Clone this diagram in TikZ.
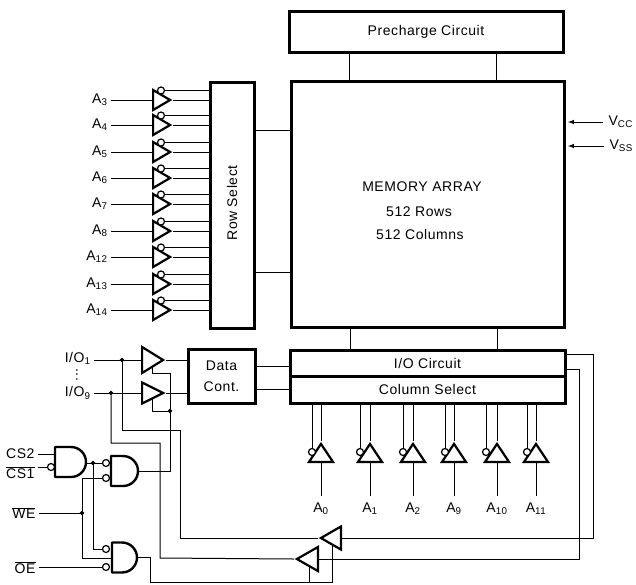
\documentclass[tikz,border=0pt]{standalone}
\usepackage{fontspec}
\setmainfont[LetterSpace=4]{Liberation Sans}
\usetikzlibrary{shapes.geometric}
\begin{document}
\begin{tikzpicture}[x=1pt,y=-1pt,line width=1pt]
\tikzset{every node/.style={font=\fontsize{14}{17}\selectfont},
bloc/.style={draw, line width=3pt, inner sep=0pt},
tampon/.style={draw, line width=2.2pt, isosceles triangle, isosceles triangle stretches, inner sep=0pt, anchor=lower side},
bulle/.style={draw, circle, fill=white, line width=1.2pt, inner sep=0pt, minimum size=7pt},
jonction/.style={draw, circle, fill=black, inner sep=0pt, minimum size=3.5pt},
etiquette/.style={anchor=east, inner sep=3pt},
porte/.style={line width=2.4pt, line join=round}}
\useasboundingbox (0,0) rectangle (636,584);
\node[bloc, minimum width=274pt, minimum height=41pt] (Precharge) at (426,31.5) {Precharge Circuit};
\node[bloc, minimum width=273pt, minimum height=246pt] (Memory) at (427.5,204) {};
\node (MemA) at (422,187) {MEMORY ARRAY};
\node (MemB) at (419,212) {512 Rows};
\node (MemC) at (420,234) {512 Columns};
\node[bloc, minimum width=44pt, minimum height=246pt] (RowSelect) at (232,205) {};
\node[rotate=90] (RowText) at (232,203) {Row Select};
\node[bloc, minimum width=275pt, minimum height=26pt] (IO) at (427.5,363) {I/O Circuit};
\node[bloc, minimum width=275pt, minimum height=27pt] (Col) at (427.5,389.5) {Column Select};
\node[bloc, minimum width=67pt, minimum height=54pt, align=center] (Data) at (221.5,376) {Data\\[4pt]Cont.};
\draw (349,52) -- (349,81);
\draw (496,52) -- (496,81);
\draw (350,327) -- (350,350);
\draw (497,327) -- (497,350);
\draw (RowSelect.east |- 0,130) -- (Memory.west |- 0,130);
\draw (RowSelect.east |- 0,272) -- (Memory.west |- 0,272);
\foreach \y/\n in {100/3,125/4,152/5,178/6,204/7,231/8,257/12,284/13,310/14} {
\node[etiquette] (LA\n) at (111,\y) {A\textsubscript{\n}};
\node[tampon, minimum width=20pt, minimum height=17pt] (BA\n) at (152,\y) {};
\node[bulle] (CA\n) at (161,\y-9.5) {};
\draw (LA\n.east) -- (BA\n.lower side);
\draw (BA\n.apex) -- (BA\n.apex -| RowSelect.west);
\draw (CA\n) -- (CA\n -| RowSelect.west);
}
\foreach \x/\xb/\n in {321/312/0,370/360/1,413/403/2,454/445/9,497/486/10,536/527/11} {
\node[inner sep=2pt] (LA\n) at (\x,509) {A\textsubscript{\n}};
\node[tampon, shape border rotate=90, minimum width=24pt, minimum height=18pt] (BA\n) at (\x,463) {};
\node[bulle] (CA\n) at (\xb,452) {};
\coordinate (PA\n) at (\x,496);
\draw (PA\n) -- (BA\n.lower side);
\draw (BA\n.apex) -- (BA\n.apex |- Col.south);
\draw (CA\n) -- (CA\n |- Col.south);
}
\draw (Data.east |- 0,366) -- (IO.west |- 0,366);
\draw (Data.east |- 0,389) -- (Col.west |- 0,389);
\node[etiquette] (IOa) at (94,358) {I/O\textsubscript{1}};
\node[etiquette] (IOb) at (94,393) {I/O\textsubscript{9}};
\node[rotate=90, inner sep=0pt] (IOdots) at (77,375) {...};
\node[tampon, minimum width=26pt, minimum height=21pt] (Ta) at (141,360) {};
\node[tampon, minimum width=21pt, minimum height=21pt] (Tb) at (141,393) {};
\node[jonction] (Ja) at (122,360) {};
\node[jonction] (Jb) at (111,393) {};
\draw (IOa.east |- Ta) -- (Ta.lower side);
\draw (IOb.east) -- (Tb.lower side);
\draw (Ta.apex) -- (Ta.apex -| Data.west);
\draw (Tb.apex) -- (Tb.apex -| Data.west);
\node[tampon, shape border rotate=180, minimum width=23pt, minimum height=20pt] (Tc) at (342,538) {};
\node[tampon, shape border rotate=180, minimum width=24pt, minimum height=21pt] (Td) at (319,559) {};
\draw (Ja) -- (122,430) -- (180,430) -- (180,538) -- (Tc.apex);
\draw (Jb) -- (111,443) -- (160,443) -- (160,558) -- (Td.apex);
\draw (IO.east |- 0,354) -- (593,354) -- (593,538) -- (Tc.lower side);
\draw (IO.east |- 0,369) -- (579,369) -- (579,559) -- (Td.lower side);
\node[etiquette] (CSb) at (38,454) {CS2};
\node[etiquette] (CSa) at (38,473) {$\overline{\mbox{CS1}}$};
\node[etiquette] (WE) at (39,513) {$\overline{\mbox{WE}}$};
\node[etiquette] (OE) at (39,568) {$\overline{\mbox{OE}}$};
\foreach \g/\xg/\yg/\ln in {Ga/55/462/16,Gb/111/471/12,Gc/112/557.5/10} {
\draw[porte] (\xg,\yg-15) -- (\xg+\ln,\yg-15) arc[start angle=-90, end angle=90, radius=15] -- (\xg,\yg+15) -- cycle;
\coordinate (S\g) at (\xg+\ln+15,\yg);
}
\coordinate (Gaa) at (55,454);
\coordinate (Gcb) at (112,558);
\node[bulle] (Gab) at (51,467) {};
\node[bulle] (Gba) at (106,463) {};
\node[bulle] (Gbb) at (106,478) {};
\node[bulle] (Gca) at (106,549) {};
\node[bulle] (Gcc) at (106,567) {};
\node[jonction] (Jc) at (93,463) {};
\node[jonction] (Jd) at (82,513) {};
\node[jonction] (Je) at (170,411) {};
\draw (CSb.east |- Gaa) -- (Gaa);
\draw (CSa.east |- Gab) -- (Gab);
\draw (SGa |- Gba) -- (Gba);
\draw (Jc) |- (Gca);
\draw (WE.east) -- (Jd);
\draw (Gbb) -| (Jd);
\draw (Jd) |- (Gcb);
\draw (OE.east |- Gcc) -- (Gcc);
\coordinate (Ea) at (152,367);
\coordinate (Eb) at (152,399);
\coordinate (Ec) at (332,544);
\coordinate (Ed) at (309,565);
\draw (SGb) -- (170,471) -- (170,373) -- (152,373) -- (Ea);
\draw (Eb) -- (152,411) -- (Je);
\draw (SGc) -- (150,557.5) -- (150,582) -- (332,582) -- (Ec);
\draw (309,582) -- (Ed);
\node[anchor=west, inner xsep=5pt, inner ysep=0pt] (Vcc) at (603,122) {V\textsubscript{CC}};
\node[anchor=west, inner xsep=5pt, inner ysep=0pt] (Vss) at (604,146) {V\textsubscript{SS}};
\draw[-latex] (Vcc.west) -- (568,122);
\draw[-latex] (Vss.west) -- (568,146);
\end{tikzpicture}
\end{document}
